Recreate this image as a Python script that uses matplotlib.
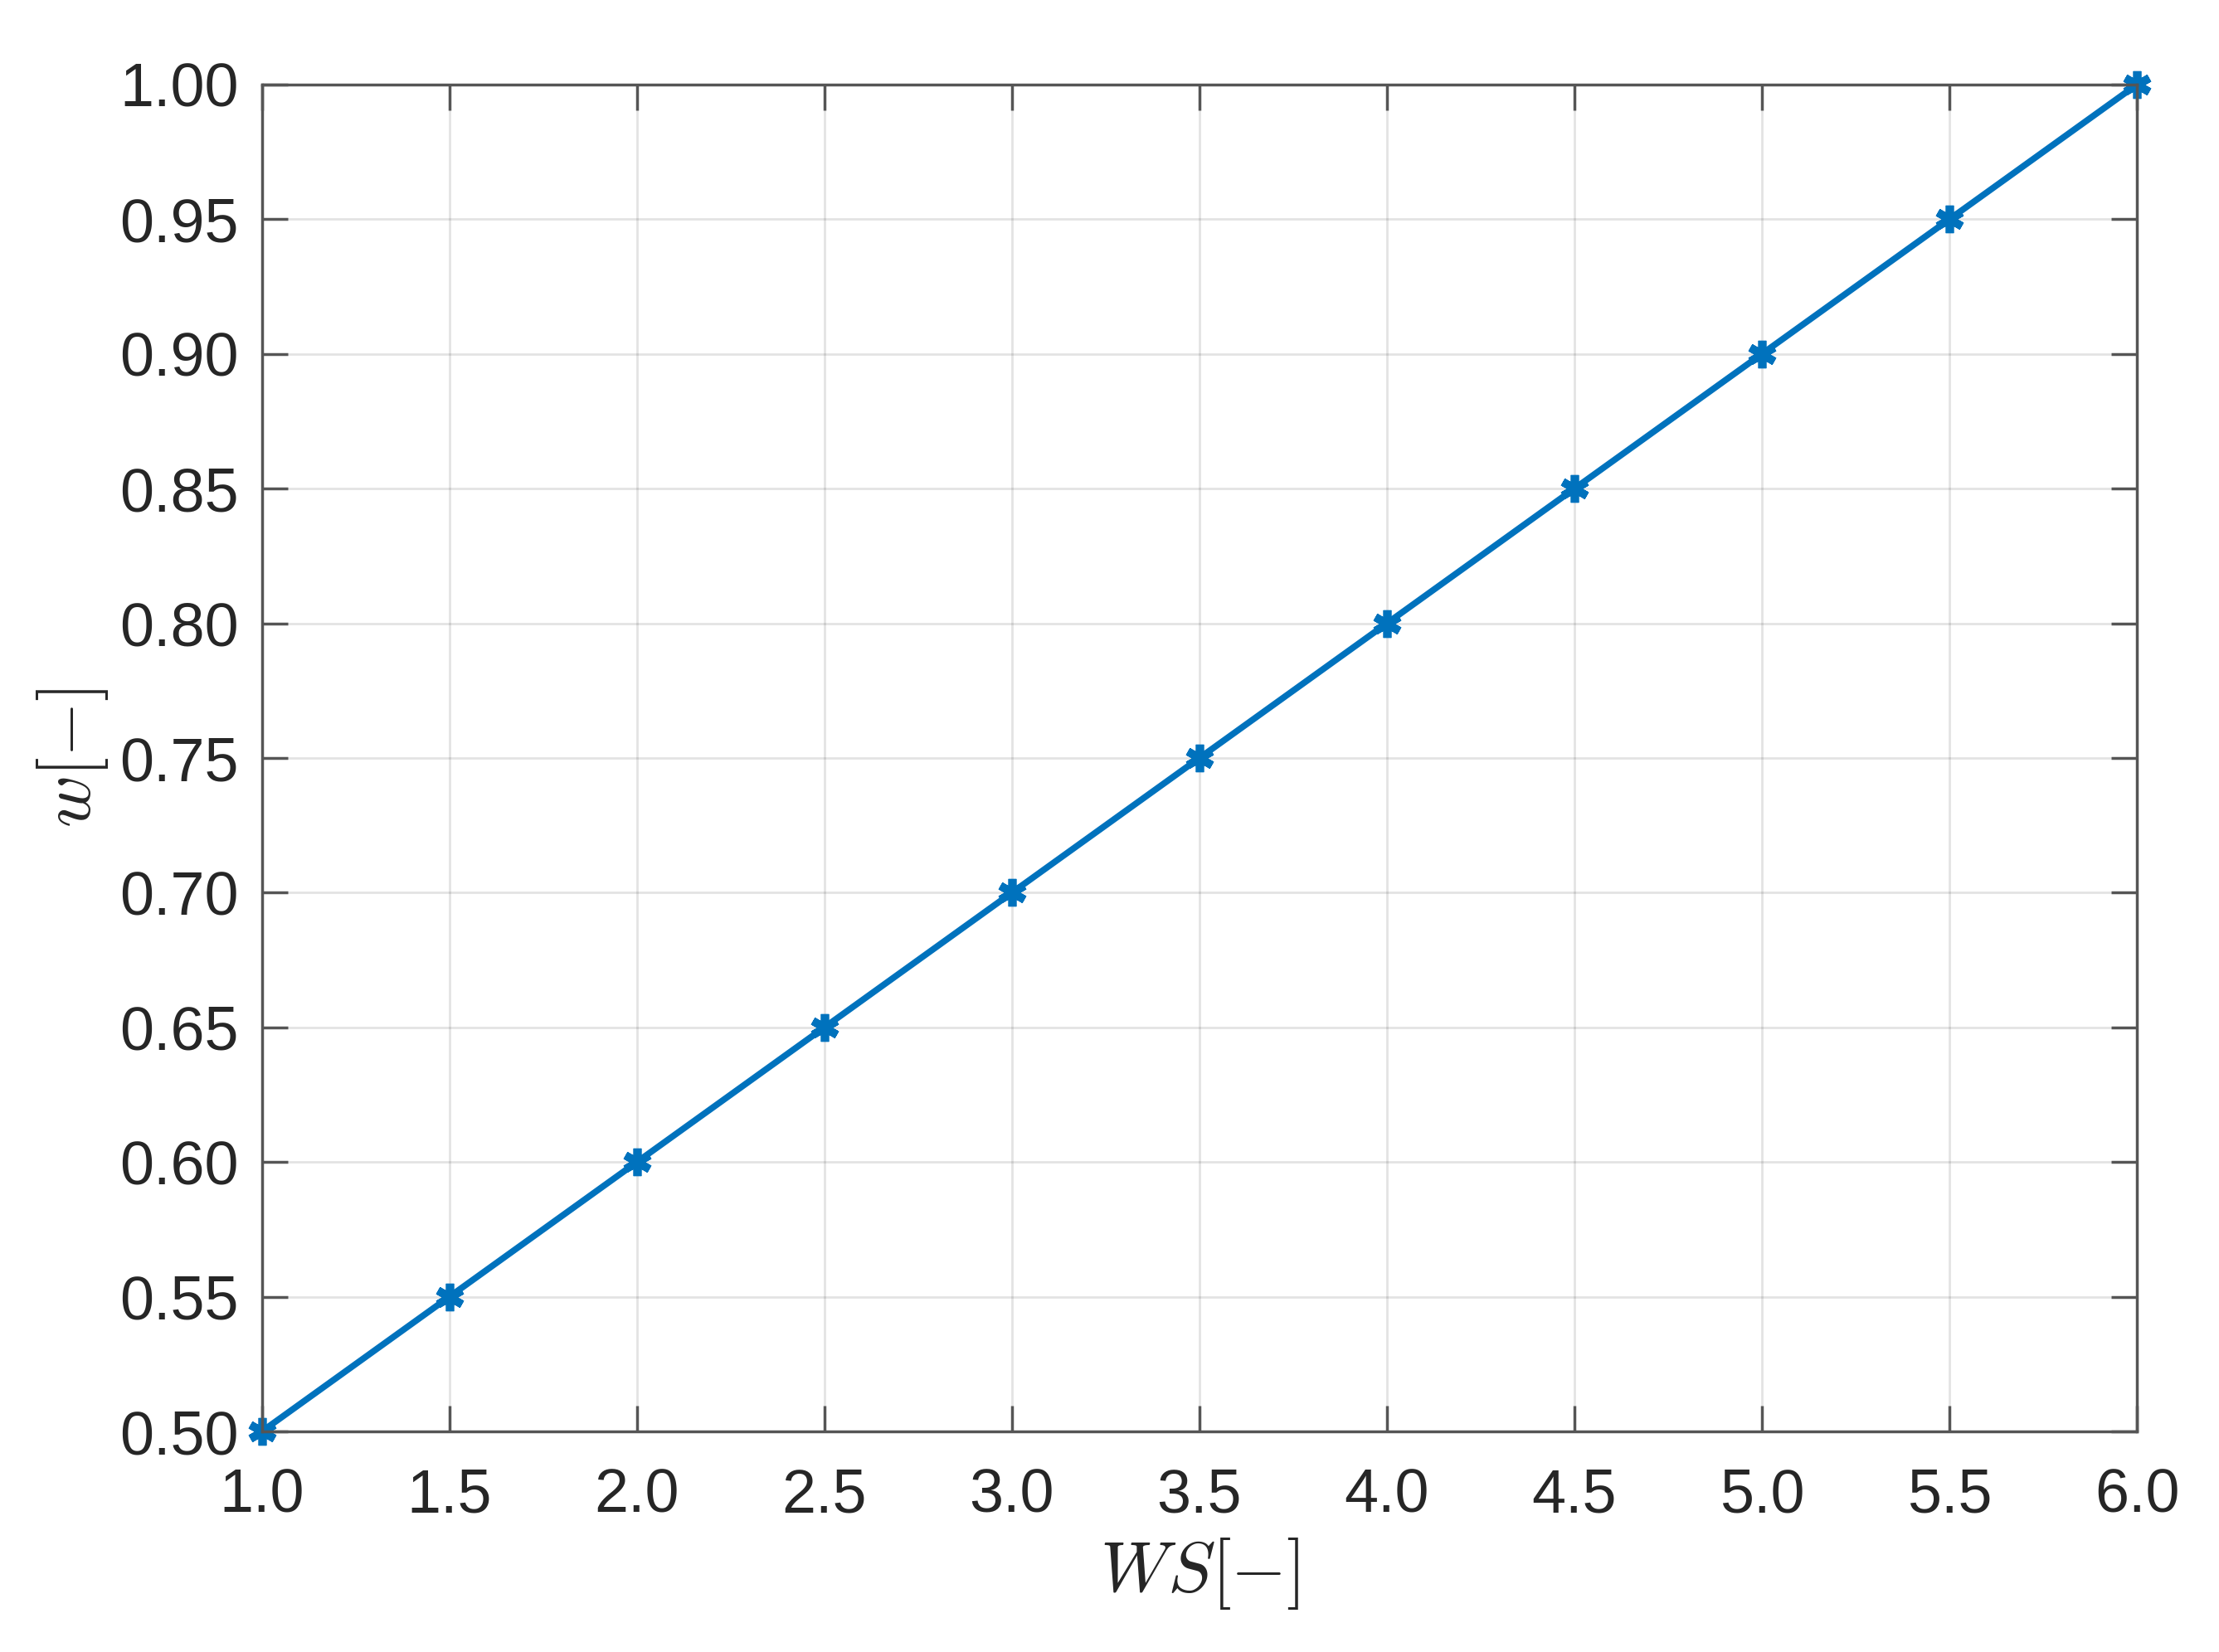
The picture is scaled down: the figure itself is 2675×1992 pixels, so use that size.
import matplotlib
matplotlib.use("Agg")
import matplotlib.pyplot as plt
import numpy as np

ws = [1.0, 1.5, 2.0, 2.5, 3.0, 3.5, 4.0, 4.5, 5.0, 5.5, 6.0]
w = [0.50, 0.55, 0.60, 0.65, 0.70, 0.75, 0.80, 0.85, 0.90, 0.95, 1.00]

xticks = np.arange(1.0, 6.01, 0.5)
yticks = np.arange(0.50, 1.001, 0.05)

plt.rcParams['font.family'] = ['Liberation Sans', 'DejaVu Sans']
plt.rcParams['mathtext.fontset'] = 'cm'

fig = plt.figure(figsize=(26.75, 19.92), dpi=100)
ax = fig.add_axes([0.118, 0.1335, 0.845, 0.8153])

ax.plot(ws, w, color="#0072BD", linewidth=5.5, marker=(6, 2, 0),
        markersize=24, markeredgewidth=7, markeredgecolor="#0072BD", clip_on=False)

ax.set_xlim(1.0, 6.0)
ax.set_ylim(0.5, 1.0)
ax.set_xticks(xticks)
ax.set_yticks(yticks)
ax.set_xticklabels(["%.1f" % t for t in xticks])
ax.set_yticklabels(["%.2f" % t for t in yticks])
ax.tick_params(direction="in", length=22, width=2.5, colors="#555555", labelsize=53,
               labelcolor="#262626", top=True, right=True)
ax.tick_params(axis="x", pad=31)
ax.tick_params(axis="y", pad=20)
for s in ax.spines.values():
    s.set_color("#555555")
    s.set_linewidth(2.5)
ax.grid(True, color="#000000", alpha=0.11, linewidth=2)
ax.set_axisbelow(True)

ax.set_xlabel(r"$WS[-]$", fontsize=62, color="#262626", labelpad=10)
ax.set_ylabel(r"$w[-]$", fontsize=62, color="#262626", labelpad=8)

fig.savefig("out.png", dpi=100)
